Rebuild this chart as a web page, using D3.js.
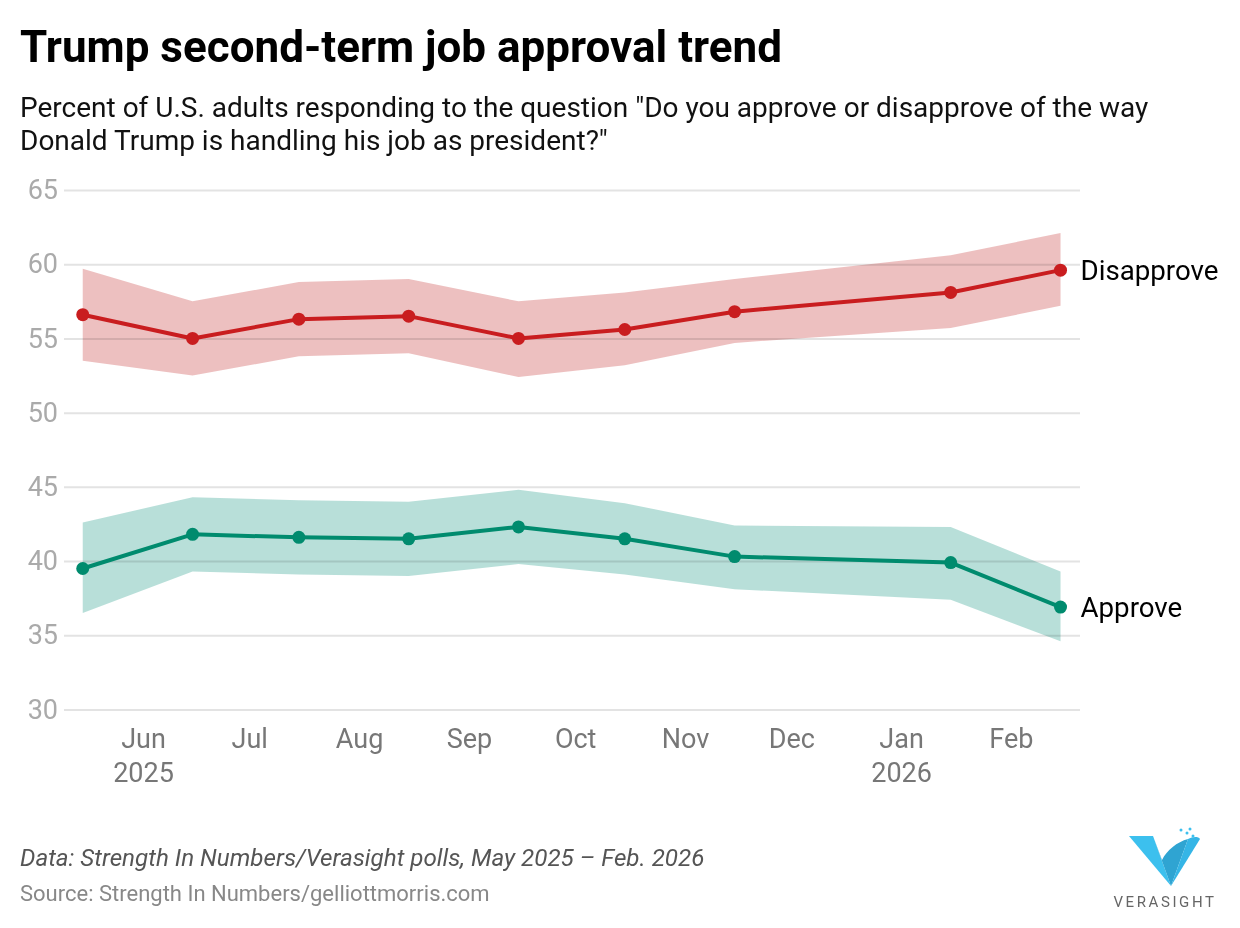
<!DOCTYPE html>
<html>
<head>
<meta charset="utf-8">
<script src="https://cdn.jsdelivr.net/npm/d3@7"></script>
<style>
  body { margin: 0; background: #fff; font-family: Roboto, "Noto Sans", sans-serif; }
</style>
</head>
<body>
<div id="chart"></div>
<script>
// poll dates and values (percent)
const dates = ["2025-05-15", "2025-06-15", "2025-07-15", "2025-08-15", "2025-09-15",
  "2025-10-15", "2025-11-15", "2026-01-15", "2026-02-15"];
const disapprove = [56.6, 55.0, 56.3, 56.5, 55.0, 55.6, 56.8, 58.1, 59.6];
const disapproveHigh = [59.7, 57.5, 58.8, 59.0, 57.5, 58.1, 59.0, 60.6, 62.1];
const disapproveLow = [53.5, 52.5, 53.8, 54.0, 52.4, 53.2, 54.7, 55.7, 57.2];
const approve = [39.5, 41.8, 41.6, 41.5, 42.3, 41.5, 40.3, 39.9, 36.9];
const approveHigh = [42.6, 44.3, 44.1, 44.0, 44.8, 43.9, 42.4, 42.3, 39.3];
const approveLow = [36.5, 39.3, 39.1, 39.0, 39.8, 39.1, 38.1, 37.4, 34.6];

const yTicks = [30, 35, 40, 45, 50, 55, 60, 65];
const monthTicks = ["2025-06-01", "2025-07-01", "2025-08-01", "2025-09-01", "2025-10-01",
  "2025-11-01", "2025-12-01", "2026-01-01", "2026-02-01"];
const xDomain = ["2025-05-09 17:00", "2026-02-20 12:00"];

const width = 1240;
const height = 928;

const parseDay = d3.timeParse("%Y-%m-%d");
const parseTime = d3.timeParse("%Y-%m-%d %H:%M");
const days = dates.map(parseDay);

const x = d3.scaleTime().domain(xDomain.map(parseTime)).range([64, 1080]);
const y = d3.scaleLinear().domain([30, 65]).range([709.5, 190]);

const svg = d3
  .select("#chart")
  .append("svg")
  .attr("width", width)
  .attr("height", height)
  .attr("viewBox", [0, 0, width, height]);

// titles
svg.append("text")
  .attr("x", 20).attr("y", 62)
  .attr("font-size", 44).attr("font-weight", 700).attr("fill", "#000")
  .text("Trump second-term job approval trend");

const sub = svg.append("text")
  .attr("x", 20).attr("y", 117)
  .attr("font-size", 28).attr("fill", "#111");
sub.append("tspan").attr("x", 20)
  .text("Percent of U.S. adults responding to the question \"Do you approve or disapprove of the way");
sub.append("tspan").attr("x", 20).attr("dy", 33)
  .text("Donald Trump is handling his job as president?\"");

// y axis + gridlines
const yAxis = svg.append("g")
  .attr("transform", "translate(64,0)")
  .call(d3.axisLeft(y).tickValues(yTicks).tickSize(-(1080 - 64)).tickPadding(6));
yAxis.select(".domain").remove();
yAxis.selectAll(".tick line").attr("stroke", "#e3e3e3").attr("stroke-width", 2);
yAxis.selectAll(".tick text")
  .attr("font-size", 27).attr("font-family", "Roboto").attr("fill", "#aaa");

// x axis
const fmtMonth = d3.timeFormat("%b");
const xAxis = svg.append("g")
  .attr("transform", "translate(0,709.5)")
  .call(d3.axisBottom(x).tickValues(monthTicks.map(parseDay)).tickSize(0).tickFormat(""));
xAxis.select(".domain").remove();
xAxis.selectAll(".tick text")
  .attr("y", 0).attr("dy", null)
  .attr("font-size", 27).attr("font-family", "Roboto").attr("fill", "#777")
  .each(function (d, i) {
    const t = d3.select(this);
    t.append("tspan").attr("x", 0).attr("y", 38.5).text(fmtMonth(d));
    if (i === 0 || d.getMonth() === 0) {
      t.append("tspan").attr("x", 0).attr("y", 72.5).text(d.getFullYear());
    }
  });

// bands, lines, dots
const series = [
  { name: "Disapprove", color: "#c91d1f", band: "#ecbbbb", mid: disapprove, hi: disapproveHigh, lo: disapproveLow },
  { name: "Approve", color: "#008b6e", band: "#b3ddd6", mid: approve, hi: approveHigh, lo: approveLow },
];

const area = d3.area()
  .x((d) => x(d.date))
  .y0((d) => y(d.lo))
  .y1((d) => y(d.hi));
const line = d3.line()
  .x((d) => x(d.date))
  .y((d) => y(d.v));

series.forEach((s) => {
  const pts = days.map((date, i) => ({ date, v: s.mid[i], hi: s.hi[i], lo: s.lo[i] }));

  svg.append("path")
    .datum(pts)
    .attr("d", area)
    .attr("fill", s.band)
    .attr("fill-opacity", 0.93)
    .style("mix-blend-mode", "multiply");

  svg.append("path")
    .datum(pts)
    .attr("d", line)
    .attr("fill", "none")
    .attr("stroke", s.color)
    .attr("stroke-width", 4)
    .attr("stroke-linejoin", "round");

  svg.append("g")
    .selectAll("circle")
    .data(pts)
    .join("circle")
    .attr("cx", (d) => x(d.date))
    .attr("cy", (d) => y(d.v))
    .attr("r", 6.5)
    .attr("fill", s.color);

  const last = pts[pts.length - 1];
  svg.append("text")
    .attr("x", x(last.date) + 20)
    .attr("y", y(last.v))
    .attr("dy", "0.36em")
    .attr("font-size", 27.7)
    .attr("fill", "#000")
    .text(s.name);
});

// footer
svg.append("text")
  .attr("x", 20).attr("y", 866)
  .attr("font-size", 24.2).attr("font-style", "italic").attr("fill", "#555")
  .text("Data: Strength In Numbers/Verasight polls, May 2025 \u2013 Feb. 2026");
svg.append("text")
  .attr("x", 20).attr("y", 901)
  .attr("font-size", 22).attr("fill", "#888")
  .text("Source: Strength In Numbers/gelliottmorris.com");

// Verasight logo
const logo = svg.append("g");
logo.append("path")
  .attr("d", "M1129,836 L1153,836 L1171,886 Z")
  .attr("fill", "#3cc0ee");
logo.append("path")
  .attr("d", "M1153,836 L1162,860 C1167,850 1177,842 1188,839 L1171,886 Z")
  .attr("fill", "#2fa4d2");
logo.append("path")
  .attr("d", "M1171,886 L1188,839 C1192,837 1198,836 1200,839 Z")
  .attr("fill", "#35b5e6");
[[1181, 830], [1187, 833], [1193, 836], [1190, 829]].forEach(([cx, cy]) => {
  logo.append("circle").attr("cx", cx).attr("cy", cy).attr("r", 1.5).attr("fill", "#3cc0ee");
});
logo.append("text")
  .attr("x", 1165).attr("y", 907)
  .attr("text-anchor", "middle")
  .attr("font-size", 15).attr("letter-spacing", 2.6).attr("fill", "#666")
  .text("VERASIGHT");
</script>
</body>
</html>
